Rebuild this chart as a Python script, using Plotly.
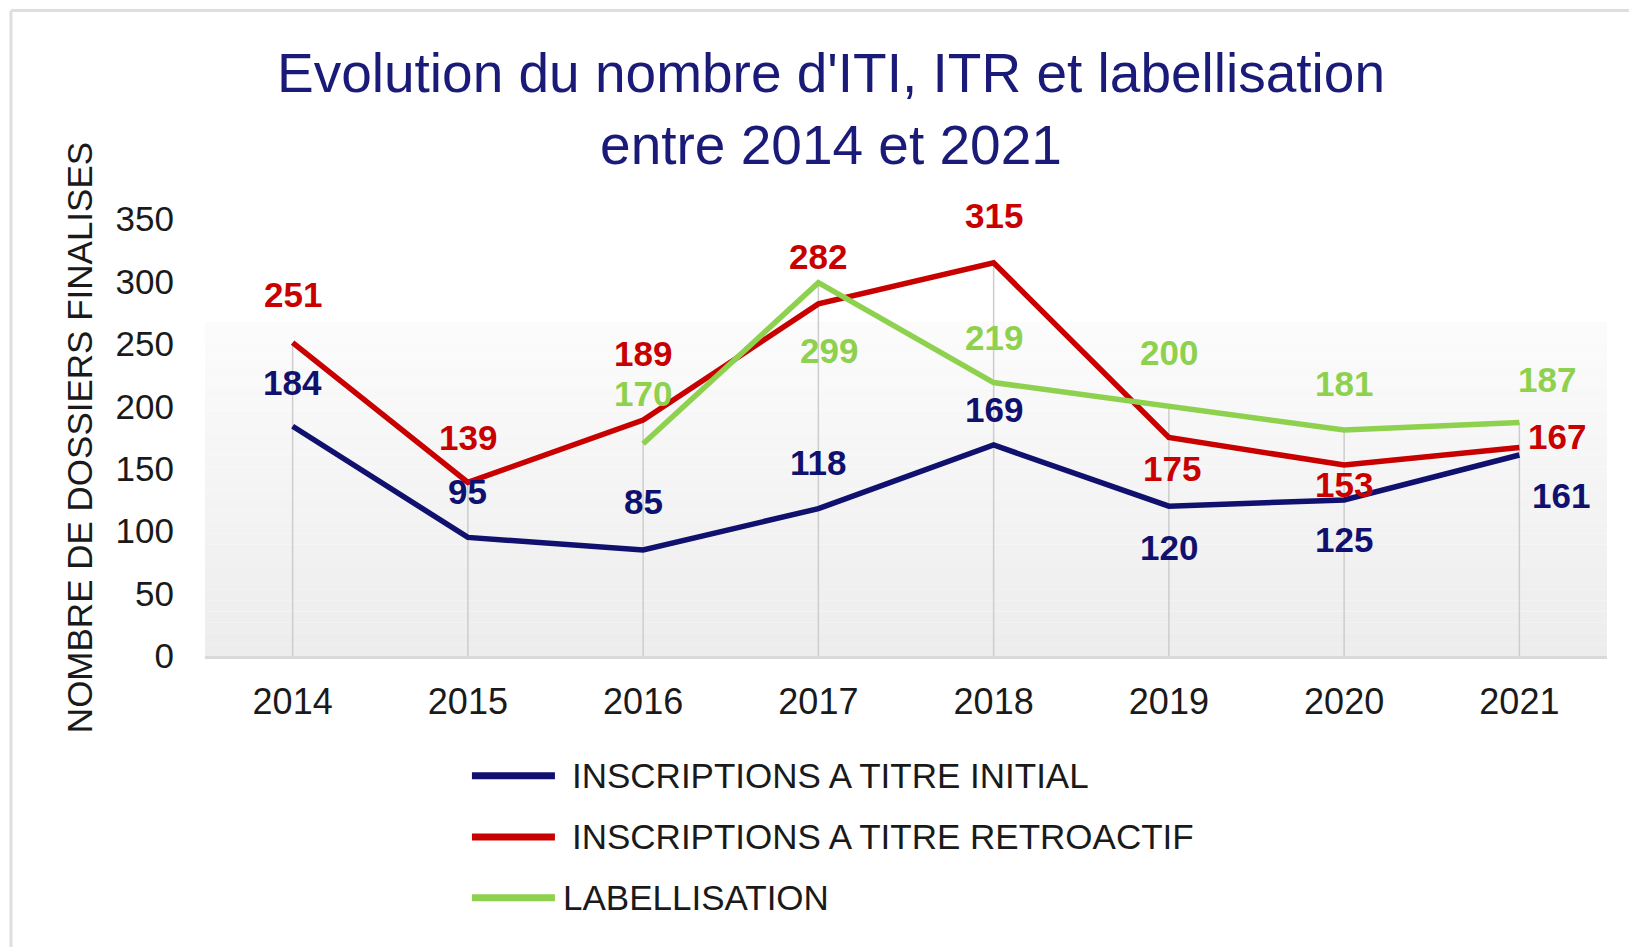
import plotly.graph_objects as go

# ---------------- data ----------------
years = ["2014", "2015", "2016", "2017", "2018", "2019", "2020", "2021"]
iti = [184, 95, 85, 118, 169, 120, 125, 161]
itr = [251, 139, 189, 282, 315, 175, 153, 167]
labellisation = [None, None, 170, 299, 219, 200, 181, 187]
series_names = [
    "INSCRIPTIONS A TITRE INITIAL",
    "INSCRIPTIONS A TITRE RETROACTIF",
    "LABELLISATION",
]
y_ticks = [0, 50, 100, 150, 200, 250, 300, 350]
title_text = "Evolution du nombre d'ITI, ITR et labellisation<br>entre 2014 et 2021"
y_title = "NOMBRE DE DOSSIERS FINALISES"

# ---------------- styles ----------------
colors = ["#10106e", "#c80000", "#8ed14e"]
FONT = "Arial, Liberation Sans, sans-serif"
# data-label offsets in pixels (xshift, yshift) per series / year
label_shifts = [
    [(0, 44), (0, 46), (0, 48), (0, 46), (0, 35), (0, -41), (0, -40), (42, -41)],
    [(0, 48), (0, 45), (0, 67), (0, 47), (0, 47), (3, -31), (0, -20), (38, 11)],
    [(0, 0), (0, 0), (0, 50), (11, -68), (0, 45), (0, 54), (0, 47), (28, 43)],
]

series = [iti, itr, labellisation]

fig = go.Figure()

# gradient background band (decoration)
n_bands = 30
top = 0.765
for i in range(n_bands):
    f = i / (n_bands - 1)
    g = int(round(237 + (251 - 237) * f))
    fig.add_shape(
        type="rect", xref="paper", yref="paper",
        x0=0, x1=1, y0=top * i / n_bands, y1=top * (i + 1) / n_bands,
        fillcolor=f"rgb({g},{g},{g})", line=dict(width=0), layer="below",
    )

# drop lines from the highest value of each year down to the axis
dx, dy = [], []
for i, yr in enumerate(years):
    vals = [s[i] for s in series if s[i] is not None]
    dx += [yr, yr, None]
    dy += [0, max(vals), None]
fig.add_trace(go.Scatter(
    x=dx, y=dy, mode="lines", line=dict(color="#cdcdcd", width=1.5),
    hoverinfo="skip", showlegend=False,
))

for name, vals, col in zip(series_names, series, colors):
    fig.add_trace(go.Scatter(
        x=years, y=vals, mode="lines", name=name,
        line=dict(color=col, width=5.5), connectgaps=False,
        showlegend=False, cliponaxis=False,
    ))

annotations = []
for vals, col, shifts in zip(series, colors, label_shifts):
    for idx, (v, (xs, ys)) in enumerate(zip(vals, shifts)):
        if v is None:
            continue
        annotations.append(dict(
            x=idx, y=v, xref="x", yref="y", text=str(v), showarrow=False,
            xshift=xs, yshift=ys,
            font=dict(family=FONT, size=35, color=col, weight="bold"),
        ))

# manual legend
leg_y = [-0.274, -0.414, -0.553]
leg_tx = [0.2603, 0.2603, 0.2539]
for name, col, ly, tx in zip(series_names, colors, leg_y, leg_tx):
    fig.add_shape(type="line", xref="paper", yref="paper",
                  x0=0.1904, x1=0.2496, y0=ly, y1=ly,
                  line=dict(color=col, width=7))
    annotations.append(dict(
        x=tx, y=ly, xref="paper", yref="paper", text=name, showarrow=False,
        xanchor="left", yanchor="middle",
        font=dict(family=FONT, size=35, color="#1a1a1a"),
    ))

# outer frame of the picture
fig.add_shape(type="line", xref="paper", yref="paper",
              x0=-0.1384, x1=-0.1384, y0=1.477, y1=-0.70,
              line=dict(color="#dedede", width=3))
fig.add_shape(type="line", xref="paper", yref="paper",
              x0=-0.1384, x1=1.02, y0=1.477, y1=1.477,
              line=dict(color="#dedede", width=3))

fig.update_layout(
    width=1629, height=947,
    margin=dict(l=205, r=22, t=219, b=291),
    paper_bgcolor="white", plot_bgcolor="white",
    title=dict(
        text=title_text, x=0.4465, xref="paper", xanchor="center",
        y=1 - 92 / 947, yref="container", yanchor="top",
        font=dict(family=FONT, size=55, color="#1a1a78"),
    ),
    xaxis=dict(
        type="category", range=[-0.5, 7.5], showgrid=False, zeroline=False,
        showline=True, linecolor="#d9d9d9", linewidth=3,
        ticks="", ticklabelstandoff=12,
        tickfont=dict(family=FONT, size=36, color="#1a1a1a"),
    ),
    yaxis=dict(
        range=[0, 350], tickvals=y_ticks, showgrid=False, zeroline=False,
        showline=False, ticks="", ticklabelstandoff=30,
        tickfont=dict(family=FONT, size=35, color="#1a1a1a"),
        title=dict(text=y_title, standoff=12,
                   font=dict(family=FONT, size=35, color="#1a1a1a")),
    ),
    annotations=annotations,
    showlegend=False,
)

fig.write_html(
    "out.html",
    config={"displayModeBar": False},
    post_script="document.body.style.margin='0';document.body.style.overflow='hidden';",
)
